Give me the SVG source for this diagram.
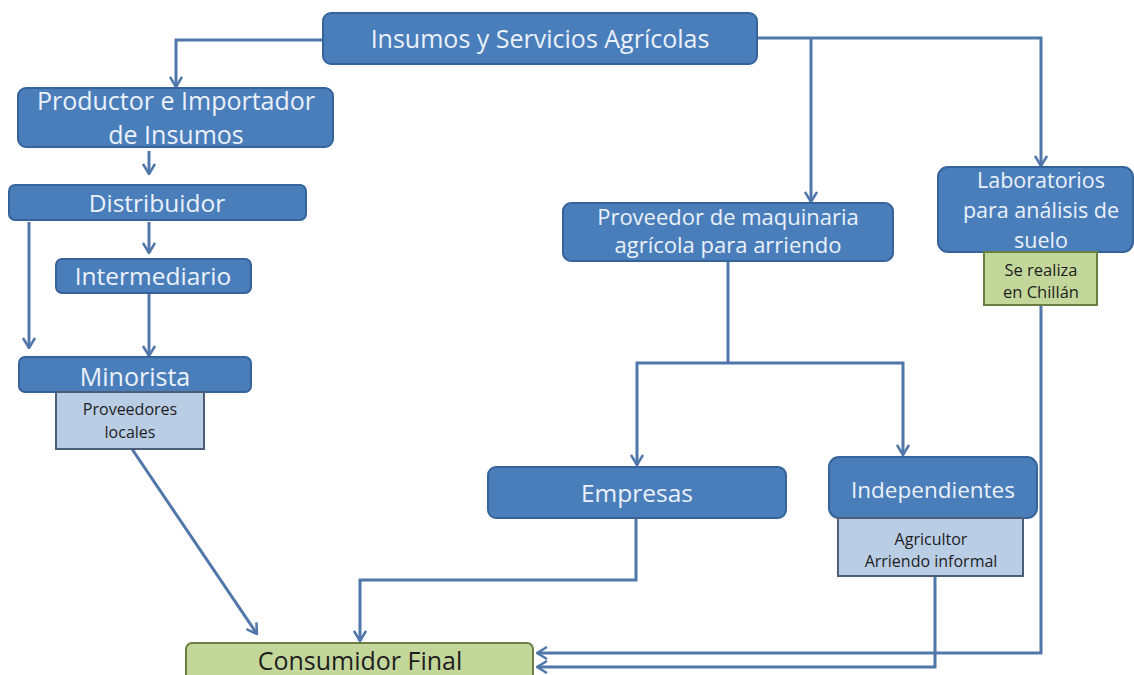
<svg xmlns="http://www.w3.org/2000/svg" width="1134" height="675" viewBox="0 0 1134 675">
<defs>
<style>
.n{fill:#4a7ebb;stroke:#35639a;stroke-width:2}
.t{fill:#eaf1fa;font-family:"Open Sans","Noto Sans",sans-serif;text-anchor:middle}
.s{fill:#b9cde5;stroke:#4d5f78;stroke-width:2}
.g{fill:#c4d79b;stroke:#6b7f45;stroke-width:2}
.d{fill:#1e1e1e;font-family:"Open Sans","Noto Sans",sans-serif;text-anchor:middle}
.c{fill:none;stroke:#5076aa;stroke-width:3}
</style>
<marker id="ah" viewBox="0 0 12 14" refX="11" refY="7" markerWidth="12" markerHeight="14" orient="auto" markerUnits="userSpaceOnUse">
<path d="M1,1 L11,7 L1,13" fill="none" stroke="#5076aa" stroke-width="2.5"/>
</marker>
</defs>
<rect width="1134" height="675" fill="#ffffff"/>
<g id="connectors">
<path class="c" d="M323,40 H176 V87" marker-end="url(#ah)"/>
<path class="c" d="M757,38 H1041 V166" marker-end="url(#ah)"/>
<path class="c" d="M811,38 V202" marker-end="url(#ah)"/>
<path class="c" d="M149,151 V174" marker-end="url(#ah)"/>
<path class="c" d="M29,222 V348" marker-end="url(#ah)"/>
<path class="c" d="M149,222 V253" marker-end="url(#ah)"/>
<path class="c" d="M149,294 V356" marker-end="url(#ah)"/>
<path class="c" d="M132,449 L257,634" marker-end="url(#ah)"/>
<path class="c" d="M728,261 V363"/>
<path class="c" d="M728,363 H637 V465" marker-end="url(#ah)"/>
<path class="c" d="M728,363 H903 V455" marker-end="url(#ah)"/>
<path class="c" d="M636,518 V580 H360 V641" marker-end="url(#ah)"/>
<path class="c" d="M1041,305 V653 H537" marker-end="url(#ah)"/>
<path class="c" d="M935,576 V667 H537" marker-end="url(#ah)"/>
</g>
<g id="insumos">
<rect class="n" x="323" y="13" width="434" height="51" rx="8"/>
<text class="t" x="540" y="48" font-size="25">Insumos y Servicios Agrícolas</text>
</g>
<g id="productor">
<rect class="n" x="18" y="88" width="315" height="59" rx="8"/>
<text class="t" x="176" y="110" font-size="25">Productor e Importador</text>
<text class="t" x="176" y="144" font-size="25">de Insumos</text>
</g>
<g id="distribuidor">
<rect class="n" x="9" y="185" width="297" height="35" rx="6"/>
<text class="t" x="157" y="212" font-size="24.5">Distribuidor</text>
</g>
<g id="intermediario">
<rect class="n" x="56" y="259" width="195" height="34" rx="6"/>
<text class="t" x="153" y="285" font-size="24.5">Intermediario</text>
</g>
<g id="minorista">
<rect class="n" x="19" y="357" width="232" height="35" rx="6"/>
<text class="t" x="135" y="386" font-size="25">Minorista</text>
</g>
<g id="proveedores-locales">
<rect class="s" x="56" y="392" width="148" height="57"/>
<text class="d" x="130" y="415" font-size="16">Proveedores</text>
<text class="d" x="130" y="438" font-size="16">locales</text>
</g>
<g id="proveedor-maquinaria">
<rect class="n" x="563" y="203" width="330" height="58" rx="8"/>
<text class="t" x="728" y="225" font-size="22">Proveedor de maquinaria</text>
<text class="t" x="728" y="253" font-size="22">agrícola para arriendo</text>
</g>
<g id="laboratorios">
<rect class="n" x="938" y="167" width="195" height="85" rx="10"/>
<text class="t" x="1041" y="188" font-size="21.5">Laboratorios</text>
<text class="t" x="1041" y="218" font-size="21.5">para análisis de</text>
<text class="t" x="1041" y="248" font-size="21.5">suelo</text>
</g>
<g id="se-realiza">
<rect class="g" x="984" y="252" width="113" height="53"/>
<text class="d" x="1041" y="276" font-size="16.5">Se realiza</text>
<text class="d" x="1041" y="298" font-size="16.5">en Chillán</text>
</g>
<g id="empresas">
<rect class="n" x="488" y="467" width="298" height="51" rx="8"/>
<text class="t" x="637" y="502" font-size="24.5">Empresas</text>
</g>
<g id="independientes">
<rect class="n" x="829" y="457" width="208" height="61" rx="10"/>
<text class="t" x="933" y="498" font-size="22.5">Independientes</text>
</g>
<g id="agricultor">
<rect class="s" x="838" y="518" width="185" height="58"/>
<text class="d" x="931" y="545" font-size="16">Agricultor</text>
<text class="d" x="931" y="567" font-size="16">Arriendo informal</text>
</g>
<g id="consumidor-final">
<rect class="g" x="186" y="643" width="347" height="50" rx="6"/>
<text class="d" x="360" y="670" font-size="25">Consumidor Final</text>
</g>
</svg>
